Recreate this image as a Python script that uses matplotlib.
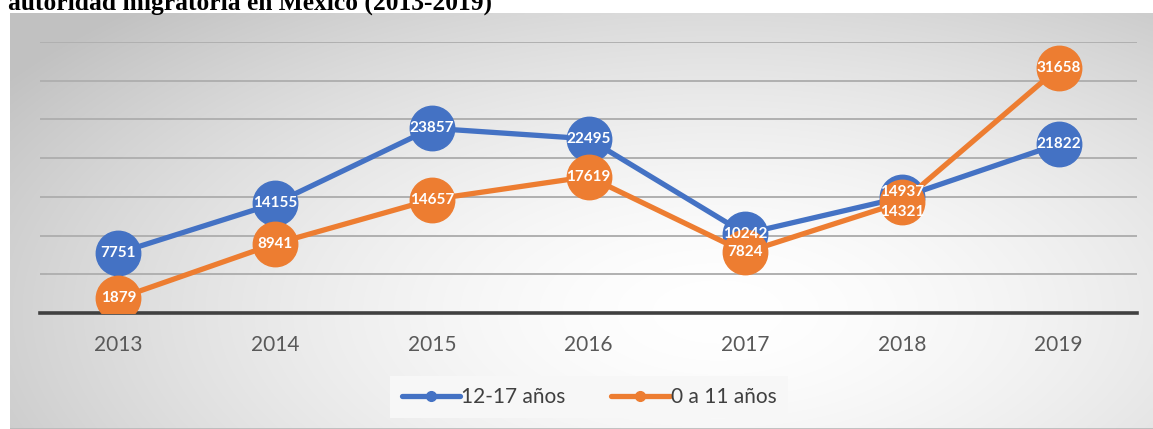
import numpy as np
import matplotlib
matplotlib.use("Agg")
import matplotlib.pyplot as plt
from matplotlib.lines import Line2D

# datos
years = ["2013", "2014", "2015", "2016", "2017", "2018", "2019"]
edad_12_17 = [7751, 14155, 23857, 22495, 10242, 14937, 21822]
edad_0_11 = [1879, 8941, 14657, 17619, 7824, 14321, 31658]
series_names = ["12-17 años", "0 a 11 años"]

blue = "#4472C4"
orange = "#ED7D31"
sans = ["Lato", "DejaVu Sans"]

W, H = 1153, 429
fig = plt.figure(figsize=(W / 100, H / 100), dpi=100)
fig.patch.set_facecolor("white")

# fondo con degradado radial del área del gráfico
bg = fig.add_axes([10 / W, 0, 1 - 10 / W, (H - 13) / H])
nx, ny = 400, 160
gx, gy = np.meshgrid(np.linspace(0, 1, nx), np.linspace(0, 1, ny))
d = np.sqrt(((gx - 0.62) / 0.75) ** 2 + ((gy - 0.72) / 1.0) ** 2)
d = np.clip(d, 0, 1)
shade = 1.0 - (1.0 - 0.76) * d ** 1.6
bg.imshow(np.dstack([shade, shade, shade]), aspect="auto", extent=[0, 1, 1, 0],
          interpolation="bilinear")
bg.axhline(1, color="#b8b8b8", lw=1.2)
bg.set_xlim(0, 1)
bg.set_ylim(1, 0)
bg.axis("off")

# área de trazado
ax = fig.add_axes([40 / W, (H - 313) / H, (1137 - 40) / W, (313 - 42) / H])
ax.set_facecolor("none")
x = np.arange(len(years))

ax.plot(x, edad_12_17, color=blue, lw=3.8, marker="o", ms=32, zorder=3,
        solid_capstyle="round")
ax.plot(x, edad_0_11, color=orange, lw=3.8, marker="o", ms=32, zorder=4,
        solid_capstyle="round")

# etiquetas de datos (desplazamiento en 2018 para evitar solapamiento)
off_blue = [0, 0, 0, 0, 0, 4, 0]
off_orange = [0, 0, 0, 0, 0, -7, 0]
for xi, v, o in zip(x, edad_12_17, off_blue):
    ax.annotate(str(v), (xi, v), xytext=(0, o), textcoords="offset points",
                ha="center", va="center", color="white", fontsize=11,
                fontweight="bold", family=sans, zorder=6)
for xi, v, o in zip(x, edad_0_11, off_orange):
    ax.annotate(str(v), (xi, v), xytext=(0, o), textcoords="offset points",
                ha="center", va="center", color="white", fontsize=11,
                fontweight="bold", family=sans, zorder=6)

ax.set_xlim(-0.5, len(years) - 0.5)
ax.set_ylim(0, 35000)
ax.set_yticks(np.arange(5000, 35001, 5000))
ax.yaxis.grid(True, color="#b0b0b0", lw=1.4)
ax.set_axisbelow(True)
ax.tick_params(axis="y", left=False, labelleft=False)
ax.set_xticks(x)
ax.set_xticklabels(years, fontsize=15, color="#595959", family=sans)
ax.tick_params(axis="x", length=0, pad=16)
for s in ["top", "left", "right"]:
    ax.spines[s].set_visible(False)
ax.spines["bottom"].set_color("#404040")
ax.spines["bottom"].set_linewidth(2.6)
ax.spines["bottom"].set_zorder(2)

# leyenda
handles = [Line2D([], [], color=blue, lw=3.8, marker="o", ms=7, solid_capstyle="round"),
           Line2D([], [], color=orange, lw=3.8, marker="o", ms=7, solid_capstyle="round")]
leg = fig.legend(handles, series_names, loc="center", ncol=2,
                 bbox_to_anchor=(589 / W, 1 - 397 / H), frameon=True,
                 prop={"family": sans, "size": 15}, handlelength=2.8,
                 handletextpad=0.05, columnspacing=2.2, borderpad=0.55,
                 borderaxespad=0, fancybox=False)
leg.get_frame().set_facecolor("#f7f7f7")
leg.get_frame().set_edgecolor("none")
leg.get_frame().set_alpha(1)
for t in leg.get_texts():
    t.set_color("#404040")

# título (recortado en la parte superior, como en el original)
fig.text(8 / W, 1 - 10 / H, "autoridad migratoria en México (2013-2019)",
         family="Liberation Serif", fontweight="bold", fontsize=18.4,
         ha="left", va="baseline", color="black")

fig.savefig("out.png", dpi=100)
